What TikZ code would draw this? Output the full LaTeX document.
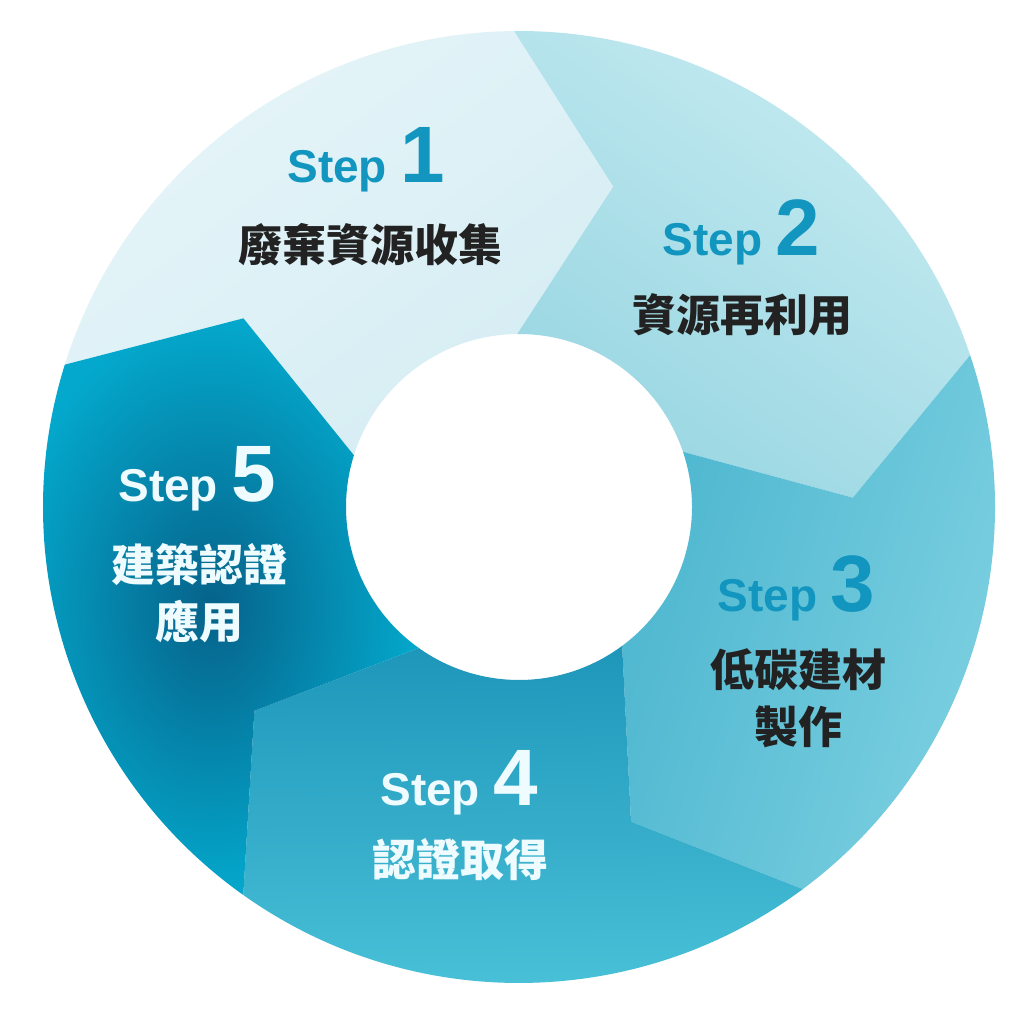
\documentclass[tikz,border=0pt]{standalone}
\usepackage{fontspec}
\setmainfont{Liberation Sans}
\newfontfamily\cjk{Noto Sans CJK TC}
\usepackage{tikz}
\definecolor{stepblue}{HTML}{1296BF}
\definecolor{darktext}{HTML}{222222}
\definecolor{lighttext}{HTML}{EEFBFF}
\tikzstyle{steplabel} = [anchor=base, inner sep=0pt, font=\bfseries]
\tikzstyle{tasklabel} = [inner sep=0pt, align=center, font=\cjk\bfseries\fontsize{44}{57}\selectfont]
\newcommand{\stepno}[1]{{\fontsize{46}{46}\selectfont Step}\hspace{13pt}{\fontsize{80}{80}\selectfont #1}}

\begin{document}
\begin{tikzpicture}[x=1pt, y=1pt]
          \useasboundingbox (0,0) rectangle (1024,1024);
          \fill[white] (0,0) rectangle (1024,1024);

          \begin{scope}[shift={(519,517)}]
          % segment 1
          \shade[top color={rgb,255:red,230;green,245;blue,249}, bottom color={rgb,255:red,213;green,237;blue,243}, shading angle=36.6]
            (162.6:476) arc[start angle=162.6, end angle=90.6, radius=476pt] -- (73.6:334) -- (90.6:173)
            arc[start angle=90.6, end angle=162.6, radius=173pt] -- (145.6:334) -- cycle;
          % segment 2
          \shade[top color={rgb,255:red,198;green,235;blue,241}, bottom color={rgb,255:red,152;green,214;blue,226}, shading angle=-35.4]
            (90.6:476) arc[start angle=90.6, end angle=18.6, radius=476pt] -- (1.6:334) -- (18.6:173)
            arc[start angle=18.6, end angle=90.6, radius=173pt] -- (73.6:334) -- cycle;
          % segment 3
          \shade[top color={rgb,255:red,128;green,210;blue,226}, bottom color={rgb,255:red,76;green,182;blue,207}, shading angle=-107.4]
            (18.6:476) arc[start angle=18.6, end angle=-53.4, radius=476pt] -- (-70.4:334) -- (-53.4:173)
            arc[start angle=-53.4, end angle=18.6, radius=173pt] -- (1.6:334) -- cycle;
          % segment 4
          \shade[top color={rgb,255:red,76;green,196;blue,218}, middle color={rgb,255:red,34;green,132;blue,168}, bottom color={rgb,255:red,30;green,150;blue,186}, shading angle=-179.4]
            (-53.4:476) arc[start angle=-53.4, end angle=-125.4, radius=476pt] -- (-142.4:334) -- (-125.4:173)
            arc[start angle=-125.4, end angle=-53.4, radius=173pt] -- (-70.4:334) -- cycle;
          % segment 5
          \shade[inner color={rgb,255:red,6;green,98;blue,138}, outer color={rgb,255:red,4;green,168;blue,204}]
            (-125.4:476) arc[start angle=-125.4, end angle=-197.4, radius=476pt] -- (145.6:334) -- (162.6:173)
            arc[start angle=162.6, end angle=234.6, radius=173pt] -- (-142.4:334) -- cycle;
          \end{scope}

          \node[steplabel, text=stepblue] (s1) at (366, 841) {\stepno{1}};
          \node[tasklabel, text=darktext] (t1) at (370, 779) {廢棄資源收集};
          \node[steplabel, text=stepblue] (s2) at (741, 768) {\stepno{2}};
          \node[tasklabel, text=darktext] (t2) at (742, 709) {資源再利用};
          \node[steplabel, text=stepblue] (s3) at (796, 412) {\stepno{3}};
          \node[tasklabel, text=darktext] (t3) at (798, 326) {低碳建材\\製作};
          \node[steplabel, text=lighttext] (s4) at (459, 218) {\stepno{4}};
          \node[tasklabel, text=lighttext] (t4) at (460, 164) {認證取得};
          \node[steplabel, text=lighttext] (s5) at (197, 522) {\stepno{5}};
          \node[tasklabel, text=lighttext] (t5) at (199, 431) {建築認證\\應用};
        \end{tikzpicture}
\end{document}
